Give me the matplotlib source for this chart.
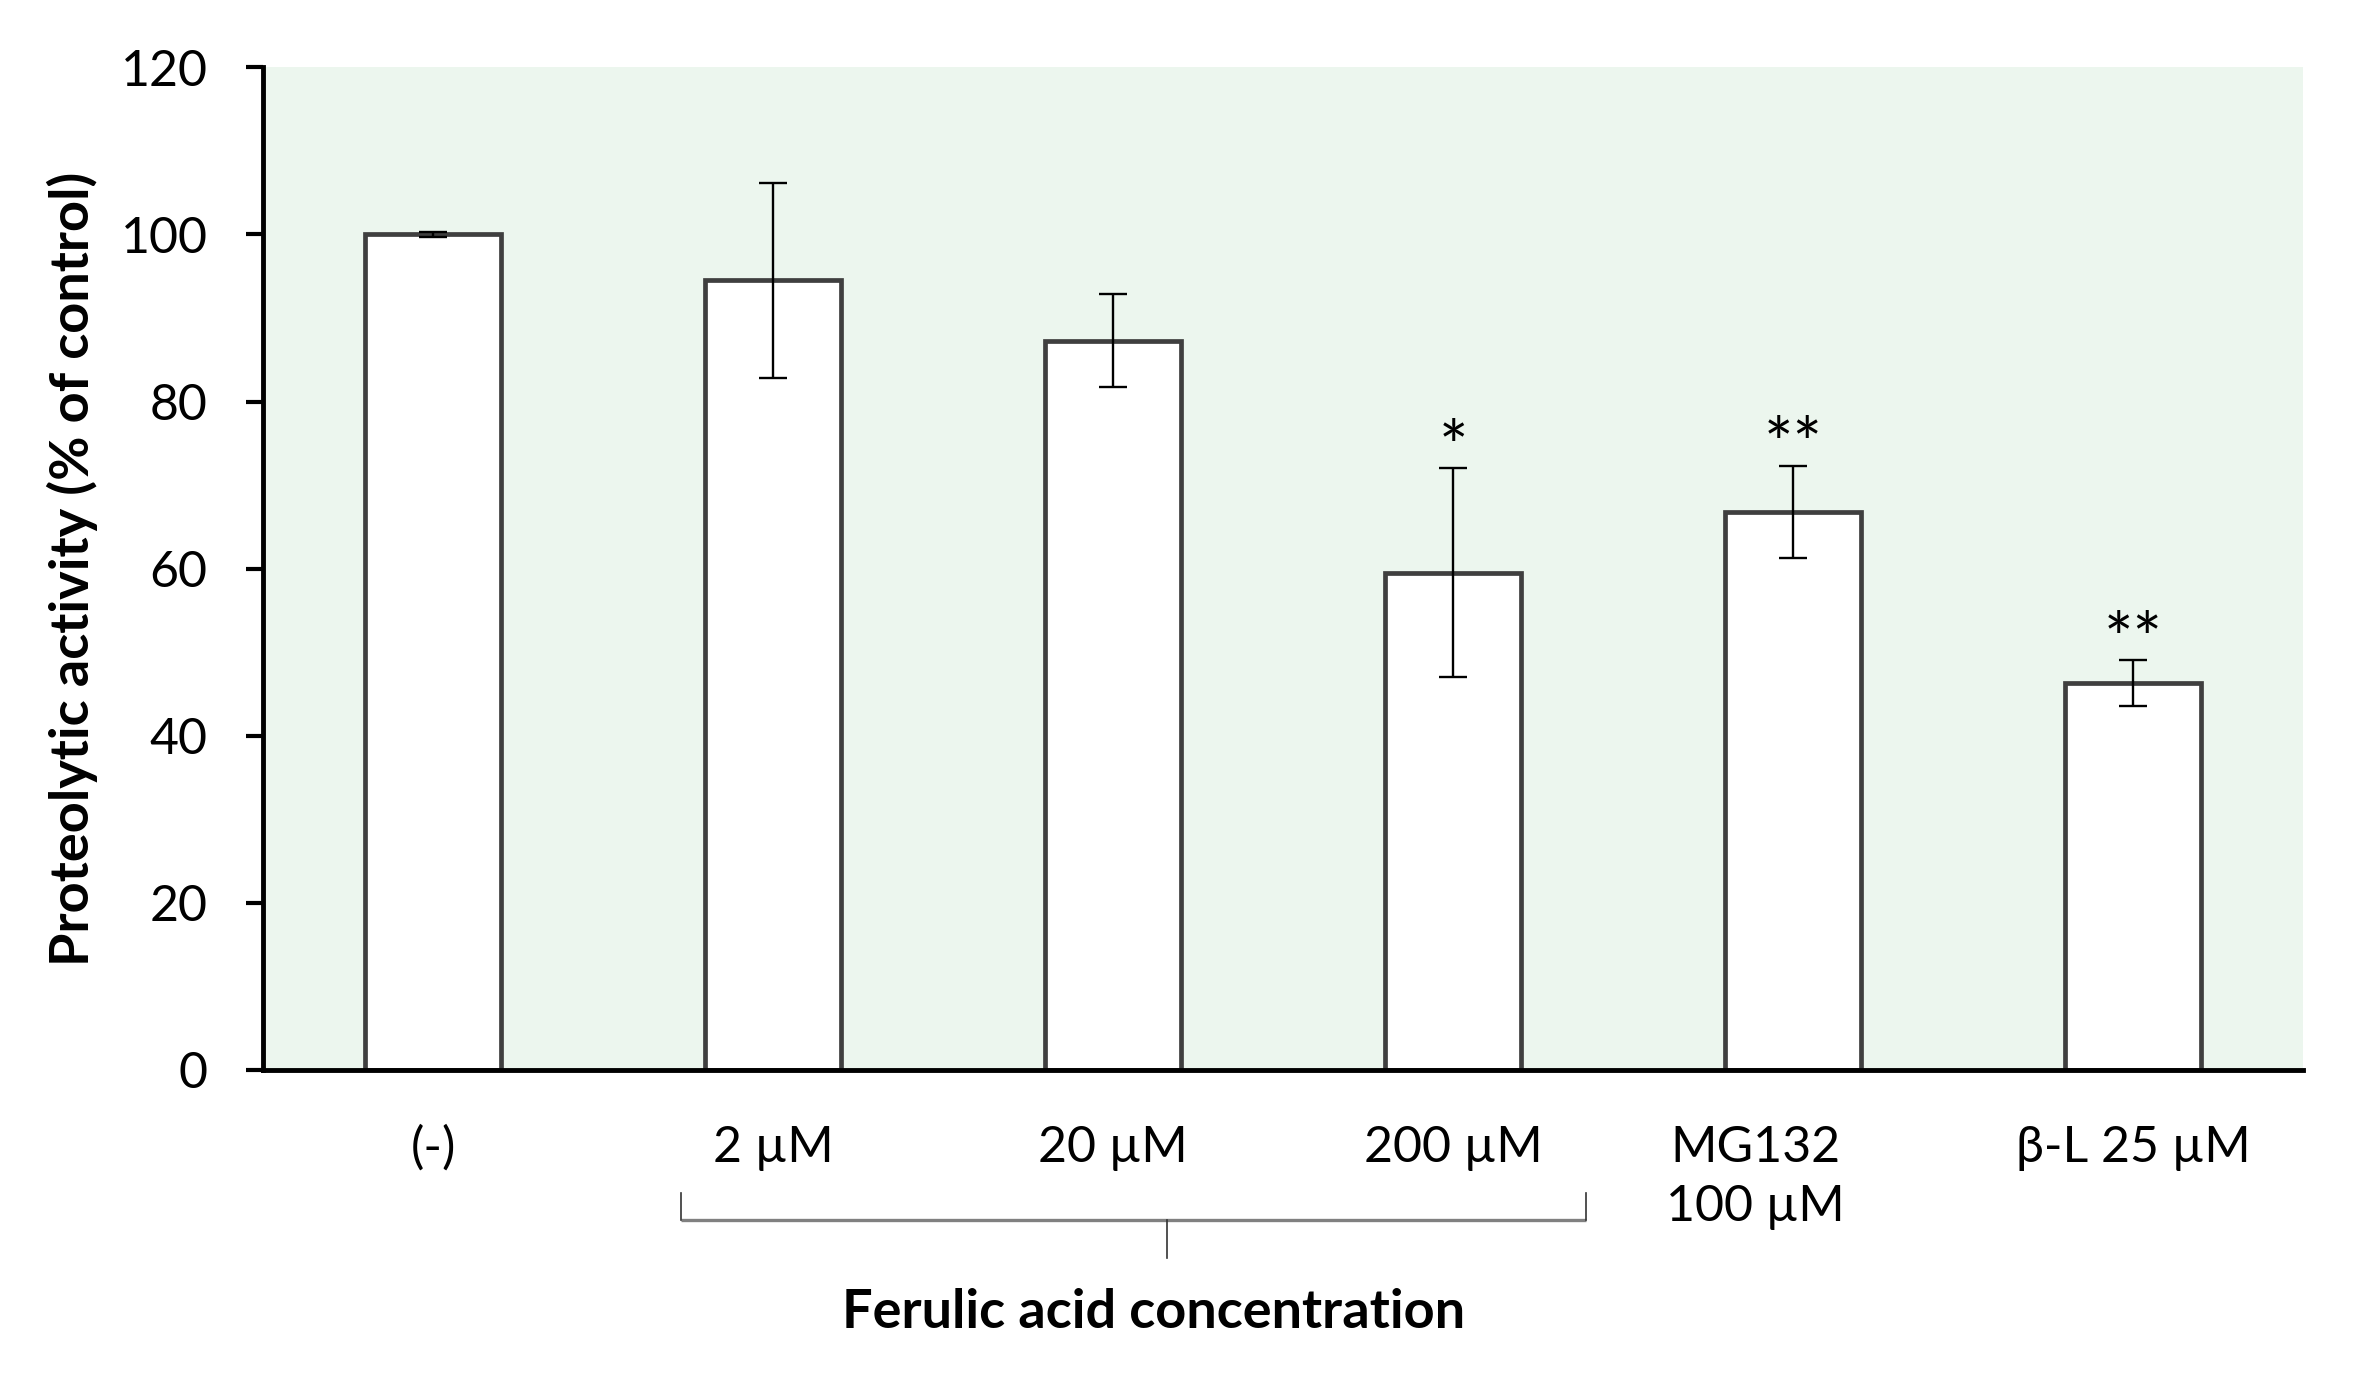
import matplotlib
matplotlib.use('Agg')
import matplotlib.pyplot as plt
import matplotlib.transforms as mtransforms

plt.rcParams['font.family'] = ['Lato', 'DejaVu Sans']

# ========== DATA ==========
categories = ['(-)', '2 µM', '20 µM', '200 µM', 'MG132\n100 µM', 'β-L 25 µM']
activity = [100.0, 94.5, 87.3, 59.5, 66.8, 46.3]
errors = [0.3, 11.7, 5.6, 12.5, 5.5, 2.7]
marks = ['', '', '', '*', '**', '**']
y_ticks = [0, 20, 40, 60, 80, 100, 120]

# bracket under the ferulic acid groups (x in category units)
BRACKET_LEFT = 0.73
BRACKET_RIGHT = 3.39
BRACKET_MID = 2.16
GROUP_LABEL = 'Ferulic acid concentration'

# ========== STYLE ==========
BG_COLOR = '#ECF6EE'
BAR_EDGE = '#3f3f3f'
FONT_SIZE = 36
LABEL_SIZE = 39

fig = plt.figure(figsize=(23.53, 13.75), dpi=100)
ax = fig.add_axes([0.1118, 0.222, 0.8670, 0.729])
ax.set_facecolor(BG_COLOR)

x = list(range(len(categories)))
ax.bar(x, activity, width=0.4, color='white', edgecolor=BAR_EDGE, linewidth=3.4,
       yerr=errors, error_kw=dict(ecolor='black', elinewidth=1.7, capsize=10, capthick=1.7),
       zorder=2)

for xi, v, e, m in zip(x, activity, errors, marks):
    if m:
        ax.text(xi, v + e - 0.3, m, ha='center', va='baseline', fontsize=50, zorder=3)

ax.set_xlim(-0.5, len(categories) - 0.5)
ax.set_ylim(0, 120)
ax.set_yticks(y_ticks)
ax.set_xticks(x)
ax.set_xticklabels(categories, linespacing=1.35)

for side in ['top', 'right']:
    ax.spines[side].set_visible(False)
for side in ['left', 'bottom']:
    ax.spines[side].set_linewidth(3.5)
    ax.spines[side].set_color('black')
    ax.spines[side].set_zorder(4)

ax.tick_params(axis='y', length=12, width=3, pad=28, labelsize=FONT_SIZE, color='black')
ax.tick_params(axis='x', length=0, pad=40, labelsize=FONT_SIZE)

# MG132 label sits a bit left of its bar in the original
lbl = ax.get_xticklabels()[4]
lbl.set_transform(lbl.get_transform() + mtransforms.ScaledTranslation(-27 / 72, 0, fig.dpi_scale_trans))

ax.set_ylabel('Proteolytic activity (% of control)', fontsize=LABEL_SIZE, fontweight='bold', labelpad=16)

# bracket
trans = mtransforms.blended_transform_factory(ax.transData, ax.transAxes)
ax.plot([BRACKET_LEFT, BRACKET_RIGHT], [-0.1496, -0.1496], color='#808080', lw=2.4,
        transform=trans, clip_on=False, solid_capstyle='butt')
for bx in [BRACKET_LEFT, BRACKET_RIGHT]:
    ax.plot([bx, bx], [-0.1496, -0.1227], color='#333333', lw=1.2, transform=trans, clip_on=False)
ax.plot([BRACKET_MID, BRACKET_MID], [-0.1496, -0.1875], color='#333333', lw=1.2,
        transform=trans, clip_on=False)
ax.text(2.12, -0.2424, GROUP_LABEL, ha='center', va='center', fontsize=LABEL_SIZE,
        fontweight='bold', transform=trans)

fig.savefig('out.png', dpi=100)
